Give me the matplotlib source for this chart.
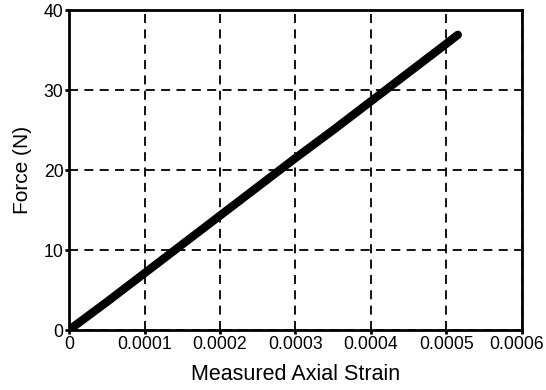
import matplotlib.pyplot as plt
import matplotlib.transforms as mtransforms

plt.rcParams['font.family'] = ['Liberation Sans', 'DejaVu Sans']

# values
strain = [0.0, 0.00005, 0.0001, 0.00015, 0.0002, 0.00025, 0.0003,
          0.00035, 0.0004, 0.00045, 0.0005, 0.000515]
force = [0.0, 3.5, 7.1, 10.7, 14.3, 17.9, 21.5, 25.0, 28.6, 32.2, 35.8, 36.9]

x_ticks = [0, 0.0001, 0.0002, 0.0003, 0.0004, 0.0005, 0.0006]
x_labels = ['0', '0.0001', '0.0002', '0.0003', '0.0004', '0.0005', '0.0006']
y_ticks = [0, 10, 20, 30, 40]

fig = plt.figure(figsize=(5.46, 3.9), dpi=100)
ax = fig.add_axes([0.1264, 0.1538, 0.8296, 0.8205])

ax.plot(strain, force, color='black', linewidth=6, solid_capstyle='round', zorder=3)

ax.set_xlim(0, 0.0006)
ax.set_ylim(0, 40)
ax.set_xticks(x_ticks)
ax.set_xticklabels(x_labels)
ax.set_yticks(y_ticks)
ax.grid(True, color='black', linestyle=(0, (5, 3.5)), linewidth=1.3)
for s in ax.spines.values():
    s.set_linewidth(2)
ax.tick_params(direction='out', length=3, width=2, labelsize=12.7, pad=1)
ax.set_xlabel('Measured Axial Strain', fontsize=15.5, labelpad=8)
ax.set_ylabel('Force (N)', fontsize=15, labelpad=8)

# last tick label sits against the right edge, nudge it in
last = ax.get_xticklabels()[-1]
last.set_transform(last.get_transform() +
                   mtransforms.ScaledTranslation(-4 / 72, 0, fig.dpi_scale_trans))

plt.savefig('out.png', dpi=100)
